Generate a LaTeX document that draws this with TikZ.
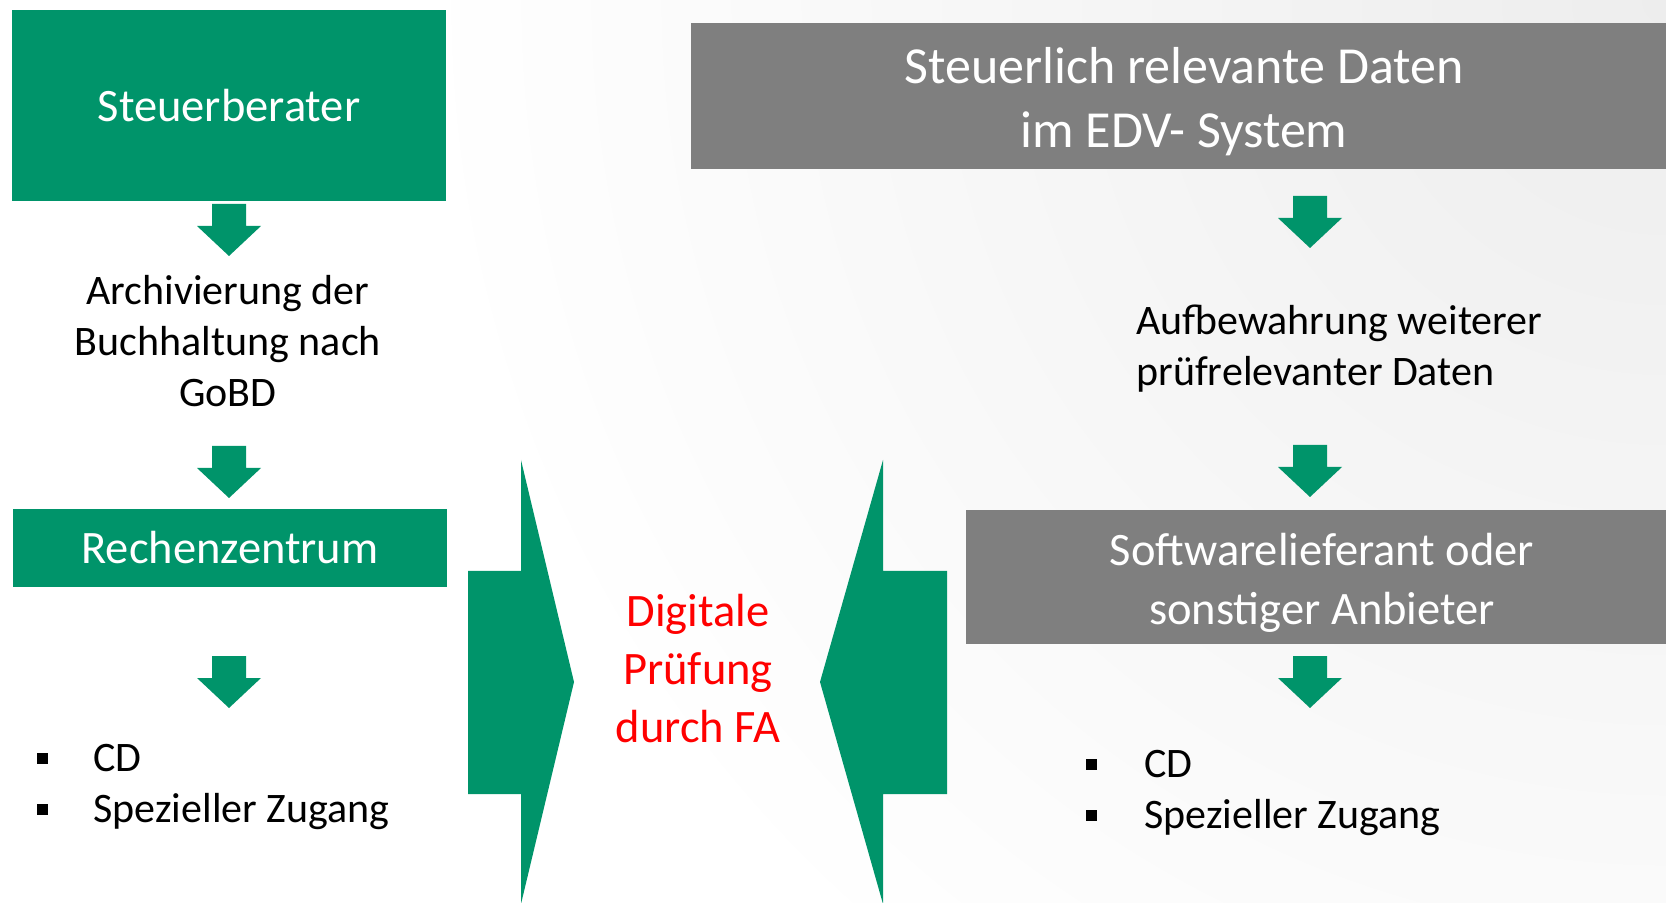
\documentclass[tikz,border=0pt]{standalone}
\usepackage{fontspec}
\setmainfont{Carlito}
\definecolor{fgreen}{RGB}{0,148,106}
\definecolor{fgray}{RGB}{127,127,127}
\newcommand\blt[1][28pt]{\makebox[#1][l]{\rule[4pt]{5.5pt}{5.5pt}}}
\newcommand\boxtext[1]{\raisebox{-2.7pt}[\height][\depth]{\parbox{340pt}{\centering #1}}}
\begin{document}
\begin{tikzpicture}[x=0.5pt, y=-0.5pt,
  box/.style = {inner sep=0pt, text=white, align=center},
  gbox/.style = {box, fill=fgreen},
  dbox/.style = {box, fill=fgray},
  big/.style = {font=\fontsize{23.25pt}{29.5pt}\selectfont},
  body/.style = {inner sep=0pt, font=\fontsize{21pt}{25.5pt}\selectfont},
  dnarrow/.pic = {\fill[fgreen] (-17,0) -- (17,0) -- (17,22) -- (32,22) -- (0,52) -- (-32,22) -- (-17,22) -- cycle;}]
\begin{scope}
\clip (0,0) rectangle (1666,903);
\shade[inner color=black!7, outer color=white] (1666,0) circle[radius=1250];
\end{scope}
\useasboundingbox (0,0) rectangle (1666,903);

\node[gbox, big, minimum width=217pt, minimum height=95.5pt] (berater) at (229,105.5) {Steuerberater};
\node[body, align=center] (archiv) at (228,341.5) {Archivierung der\\Buchhaltung nach\\GoBD};
\node[gbox, big, minimum width=217pt, minimum height=39pt] (rechen) at (230,548) {Rechenzentrum};
\node[body, anchor=west, align=left] (listl) at (37,787) {\blt CD\\\blt Spezieller Zugang};

\node[dbox, minimum width=493pt, minimum height=73pt, font=\fontsize{26pt}{32pt}\selectfont] (edv) at (1184,96) {\boxtext{Steuerlich relevante Daten\\im EDV- System}};
\node[body, anchor=west, align=left] (aufbew) at (1136,349) {Aufbewahrung weiterer\\prüfrelevanter Daten};
\node[dbox, big, minimum width=356pt, minimum height=67pt] (software) at (1322,577) {\boxtext{Softwarelieferant oder\\sonstiger Anbieter}};
\node[body, anchor=west, align=left] (listr) at (1086,793) {\blt[29pt]CD\\\blt[29pt]Spezieller Zugang};

\node[text=red, align=center, inner sep=0pt, font=\fontsize{23.25pt}{29pt}\selectfont] (fa) at (698,669) {Digitale\\Prüfung\\durch FA};

\foreach \y in {204,446,656} \pic at (229,\y) {dnarrow};
\foreach \y in {196,445,656} \pic at (1310,\y) {dnarrow};

\fill[fgreen] (468,571) -- (521,571) -- (521,460) -- (574,682) -- (521,904) -- (521,794) -- (468,794) -- cycle;
\fill[fgreen] (947,571) -- (883,571) -- (883,460) -- (820,682) -- (883,904) -- (883,794) -- (947,794) -- cycle;
\end{tikzpicture}
\end{document}
